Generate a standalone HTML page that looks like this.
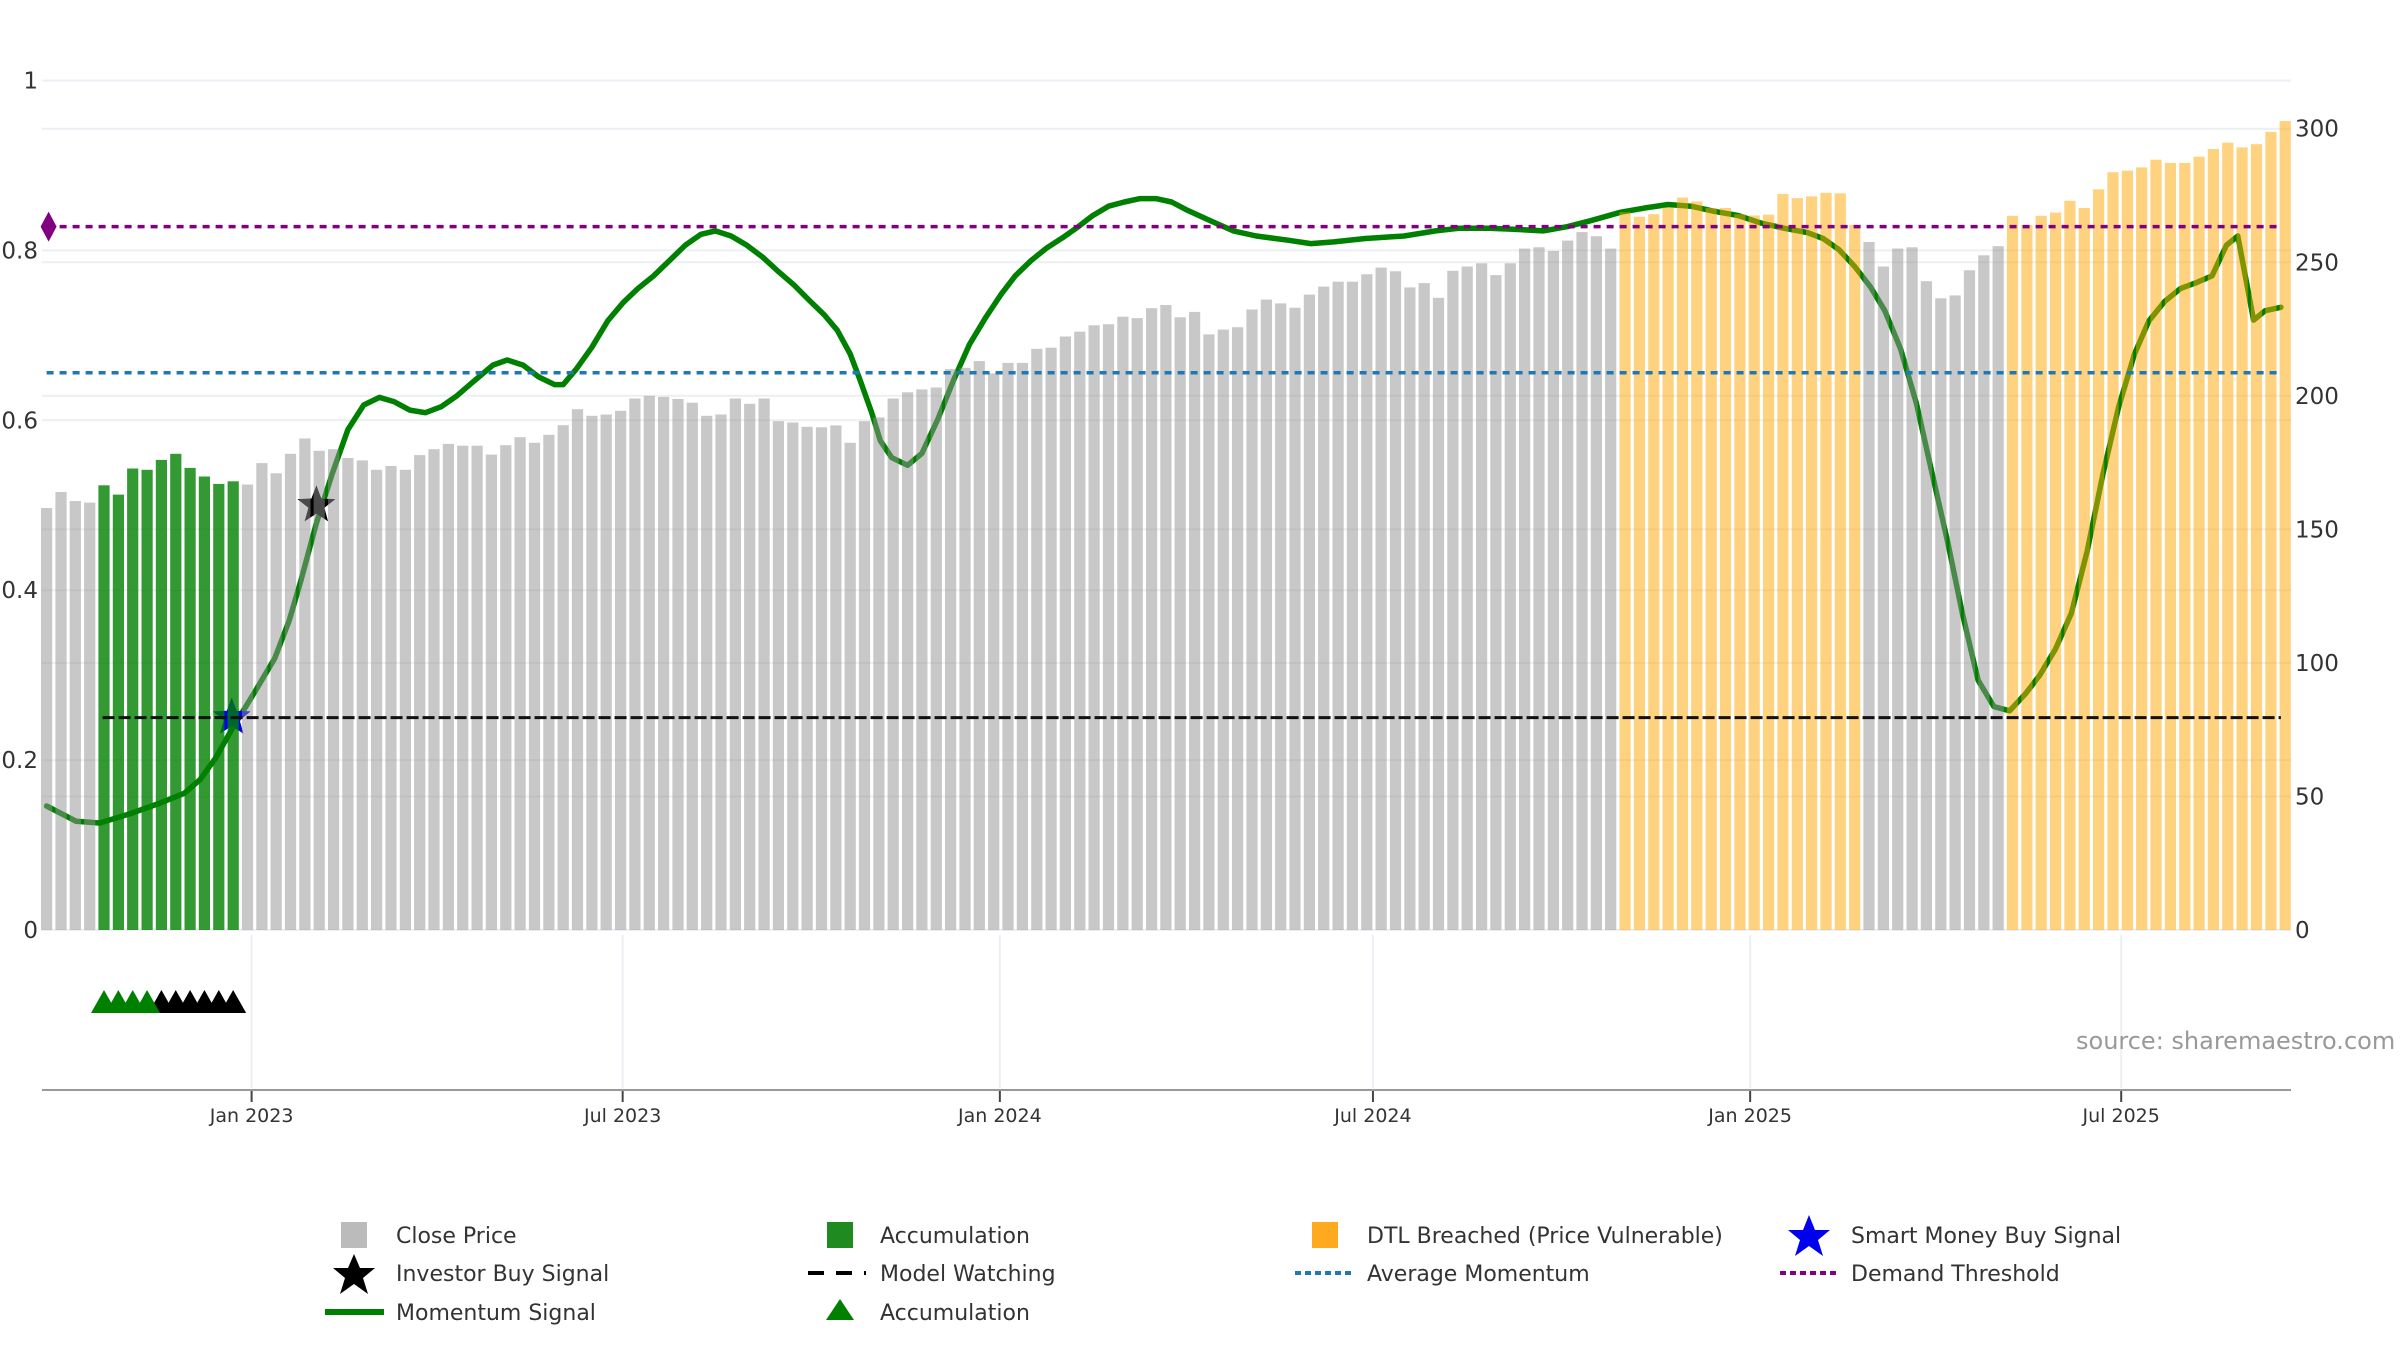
<!DOCTYPE html>
<html><head><meta charset="utf-8"><title>Momentum chart</title>
<style>
html,body{margin:0;padding:0;background:#fff;}
svg{display:block;font-family:"DejaVu Sans","Liberation Sans",sans-serif;}
</style></head>
<body>
<svg id="chart" width="2400" height="1350" viewBox="0 0 2400 1350" xmlns="http://www.w3.org/2000/svg">
  <rect x="0" y="0" width="2400" height="1350" fill="#fff"/>
  <g id="grid"></g>
  <g id="under"></g>
  <g id="bars"></g>
  <g id="over"></g>
  <g id="axes"></g>
  <text x="2076" y="1049" font-size="24" fill="#999">source: sharemaestro.com</text>
  <g id="legend" font-size="22" fill="#333">
    <g>
      <rect x="341" y="1222" width="26" height="26" fill="#bbb"/>
      <text x="396" y="1243">Close Price</text>
    </g>
    <g>
      <rect x="827" y="1222" width="26" height="26" fill="#1f8a1f"/>
      <text x="880" y="1243">Accumulation</text>
    </g>
    <g>
      <rect x="1312" y="1222" width="26" height="26" fill="#ffa91f"/>
      <text x="1367" y="1243">DTL Breached (Price Vulnerable)</text>
    </g>
    <g>
      <polygon points="1809,1215 1815,1230 1830,1230 1818,1240 1823,1256 1809,1246 1795,1256 1800,1240 1788,1230 1803,1230" fill="#0000ee"/>
      <text x="1851" y="1243">Smart Money Buy Signal</text>
    </g>
    <g>
      <polygon points="354,1254 360,1268 375,1268 363,1278 368,1294 354,1284 340,1294 345,1278 333,1268 348,1268" fill="#000"/>
      <text x="396" y="1281">Investor Buy Signal</text>
    </g>
    <g>
      <line x1="808" y1="1273" x2="866" y2="1273" stroke="#000" stroke-width="4" stroke-dasharray="16,12"/>
      <text x="880" y="1281">Model Watching</text>
    </g>
    <g>
      <line x1="1295" y1="1273" x2="1353" y2="1273" stroke="#1f77b4" stroke-width="4" stroke-dasharray="6,4"/>
      <text x="1367" y="1281">Average Momentum</text>
    </g>
    <g>
      <line x1="1780" y1="1273" x2="1838" y2="1273" stroke="#800080" stroke-width="4" stroke-dasharray="6,4"/>
      <text x="1851" y="1281">Demand Threshold</text>
    </g>
    <g>
      <line x1="325" y1="1312" x2="384" y2="1312" stroke="#008000" stroke-width="6"/>
      <text x="396" y="1320">Momentum Signal</text>
    </g>
    <g>
      <polygon points="840,1299 854,1320 826,1320" fill="#008000"/>
      <text x="880" y="1320">Accumulation</text>
    </g>
  </g>
</svg>
<script>
// ---- data ----
const closePrice = [
158,164,160.6,160,166.5,163,172.8,172.3,176,178.3,173,169.8,167,168,166.8,174.8,171,178.3,184,179.4,180,176.7,175.8,172.3,173.7,172.3,177.8,180,182,181.3,181.3,178,181.5,184.5,182.4,185.4,189,195,192.5,193,194.4,199,200,199.6,198.8,197.4,192.5,193,199,197,199,190.5,190,188.4,
188.2,188.9,182.4,190.5,191.9,199,201.3,202.4,203.1,210,210.5,213,208.4,212.3,212.3,217.6,218,222.2,224,226.4,226.8,229.6,229.1,232.8,234,229.4,231.4,223,224.8,225.7,232.3,236,234.6,233,237.9,240.9,242.7,242.7,245.5,248,246.6,240.6,242.2,236.7,246.8,248.4,249.6,245.2,249.6,255.1,255.6,254.2,258.1,261.3,259.7,255.1,
268.7,267,268,270.5,274.2,272.8,270.3,270.3,268,267.5,267.8,275.6,274,274.7,276,275.8,264,
257.6,248.4,255.1,255.6,242.9,236.5,237.6,247,252.6,256,
267.4,263.9,267.4,268.6,273,270.3,277.3,283.7,284.3,285.5,288.4,287.2,287.2,289.5,292.4,294.8,293,294.2,298.8,302.9
];
const accumulationWeeks = [4,5,6,7,8,9,10,11,12,13];
const dtlRanges = [[110,126],[137,156]];
const momentumWeek = [0,2.06,3.7,5.84,8.0,9.6,10.7,11.8,12.9,14.5,15.9,16.9,17.7,18.8,19.9,21.0,22.1,23.2,24.2,25.3,26.4,27.5,28.6,29.7,31.1,32.1,33.2,34.3,35.4,36.0,36.9,38.0,39.1,40.2,41.2,42.3,43.4,44.5,45.6,46.6,47.7,48.8,49.9,51.0,52.1,53.1,54.2,55.1,56.0,56.7,57.5,58.1,58.9,60.0,61.0,62.1,63.2,64.3,65.4,66.5,67.5,68.6,69.7,70.8,71.9,72.9,74.0,75.1,76.2,77.3,78.4,79.4,81.1,82.7,84.3,86.5,88.1,89.7,91.9,94.6,96.8,98.4,100.5,102.2,104.3,106.0,107.6,109.7,111.4,113.0,114.6,116.2,117.9,119.5,121.1,122.7,123.8,124.9,126.0,127.1,128.1,129.2,130.3,131.4,132.5,133.5,134.6,135.7,136.8,137.9,138.9,140.0,141.1,142.2,143.3,144.4,145.5,146.5,147.6,148.7,149.8,150.9,151.9,152.7,153.8,154.6,155.7];
const momentumValue = [0.146,0.128,0.126,0.137,0.15,0.161,0.177,0.203,0.236,0.28,0.32,0.364,0.41,0.479,0.537,0.589,0.618,0.627,0.622,0.612,0.609,0.616,0.629,0.645,0.665,0.671,0.665,0.651,0.642,0.642,0.66,0.686,0.717,0.739,0.755,0.77,0.788,0.806,0.819,0.823,0.817,0.806,0.792,0.775,0.759,0.742,0.724,0.706,0.678,0.647,0.609,0.576,0.556,0.547,0.561,0.601,0.647,0.689,0.72,0.748,0.77,0.788,0.803,0.815,0.828,0.841,0.852,0.857,0.861,0.861,0.857,0.848,0.835,0.823,0.817,0.812,0.808,0.81,0.814,0.817,0.823,0.826,0.826,0.825,0.823,0.828,0.835,0.845,0.85,0.854,0.852,0.846,0.841,0.832,0.826,0.821,0.814,0.801,0.781,0.757,0.729,0.684,0.62,0.537,0.455,0.373,0.294,0.263,0.258,0.278,0.3,0.331,0.373,0.446,0.537,0.616,0.678,0.717,0.74,0.755,0.762,0.77,0.806,0.817,0.718,0.729,0.733];
const demandThreshold = [0.828];
const averageMomentum = [0.656];
const modelWatching = [0.25];
const investorBuy = [[18.8, 0.5]];
const smartMoneyBuy = [[12.9, 0.25]];
const accumTriangleWeeks = [4,5,6,7];
const watchTriangleWeeks = [8,9,10,11,12,13];
const leftTicks = [0,0.2,0.4,0.6,0.8,1];
const leftTickLabels = ["0","0.2","0.4","0.6","0.8","1"];
const rightTicks = [0,50,100,150,200,250,300];
const dateTicks = [[2023,0],[2023,6],[2024,0],[2024,6],[2025,0],[2025,6]];
const dateTickLabels = ["Jan 2023","Jul 2023","Jan 2024","Jul 2024","Jan 2025","Jul 2025"];

// ---- scales ----
const NS = "http://www.w3.org/2000/svg";
const DAY = 864e5;
const startDay = Date.UTC(2022,8,23);
const PLOT_L = 42, PLOT_R = 2291, BASE = 930;
function xDate(t){ return 251.6 + (t - Date.UTC(2023,0,1))/DAY*2.05; }
function xWeek(i){ return xDate(startDay + i*7*DAY); }
function yL(v){ return BASE - v*849.5; }
function yR(p){ return BASE - p*2.671; }
function mk(tag, attrs, parent){
  const el = document.createElementNS(NS, tag);
  for (const k in attrs) el.setAttribute(k, attrs[k]);
  parent.appendChild(el);
  return el;
}
function starPts(cx, cy, R){
  const r = R*0.42, pts=[];
  for (let k=0;k<10;k++){
    const a = -Math.PI/2 + k*Math.PI/5, rr = k%2 ? r : R;
    pts.push((cx+rr*Math.cos(a)).toFixed(1)+","+(cy+rr*Math.sin(a)).toFixed(1));
  }
  return pts.join(" ");
}
const gGrid = document.getElementById("grid");
const gUnder = document.getElementById("under");
const gBars = document.getElementById("bars");
const gOver = document.getElementById("over");
const gAxes = document.getElementById("axes");

// grid
leftTicks.forEach((v,i)=>{
  const ln = mk("line",{x1:PLOT_L,x2:PLOT_R,y1:yL(v),y2:yL(v),stroke:"#eceff4","stroke-width":2},gGrid);
  
  
  const t = mk("text",{x:38,y:yL(v)+8,"text-anchor":"end","font-size":23,fill:"#333"},gAxes);
  t.textContent = leftTickLabels[i];
  
  
});
rightTicks.forEach(p=>{
  const ln = mk("line",{x1:PLOT_L,x2:PLOT_R,y1:yR(p),y2:yR(p),stroke:"#eceff4","stroke-width":2},gGrid);
  
  
  const t = mk("text",{x:2295,y:yR(p)+8,"font-size":23,fill:"#333"},gAxes);
  t.textContent = String(p);
  
  
});
dateTicks.forEach((d,i)=>{
  const x = xDate(Date.UTC(d[0],d[1],1));
  const g = mk("line",{x1:x,x2:x,y1:935,y2:1088,stroke:"#eceff4","stroke-width":2},gGrid);
  
  
  const tk = mk("line",{x1:x,x2:x,y1:1090,y2:1102,stroke:"#444","stroke-width":2},gAxes);
  
  
  const t = mk("text",{x:x,y:1122,"text-anchor":"middle","font-size":19,fill:"#333"},gAxes);
  t.textContent = dateTickLabels[i];
  
  
});
const axisLine = mk("line",{x1:PLOT_L,x2:PLOT_R,y1:1090,y2:1090,stroke:"#999","stroke-width":2},gAxes);



// momentum line (under bars)
const pts = momentumWeek.map((w,i)=>xWeek(w).toFixed(1)+","+yL(momentumValue[i]).toFixed(1)).join(" ");
const mline = mk("polyline",{points:pts,fill:"none",stroke:"#008000","stroke-width":5.5,"stroke-linejoin":"round","stroke-linecap":"round"},gUnder);


investorBuy.forEach(s=>{
  const st = mk("polygon",{points:starPts(xWeek(s[0]),yL(s[1]),20),fill:"#000"},gUnder);
  
  
});
smartMoneyBuy.forEach(s=>{
  const st = mk("polygon",{points:starPts(xWeek(s[0]),yL(s[1]),20),fill:"#0000ee"},gUnder);
  
  
});

// bars
function isDTL(i){ return dtlRanges.some(r=>i>=r[0]&&i<=r[1]); }
closePrice.forEach((p,i)=>{
  let fill = "rgba(145,145,145,0.5)", name = "close-price-bar";
  if (accumulationWeeks.indexOf(i)>=0){ fill = "rgba(0,128,0,0.8)"; name = "accumulation-bar"; }
  else if (isDTL(i)){ fill = "rgba(255,165,0,0.5)"; name = "dtl-breached-bar"; }
  const x = xWeek(i);
  const b = mk("rect",{x:(x-5.6).toFixed(1),y:yR(p).toFixed(1),width:11.2,height:(BASE-yR(p)).toFixed(1),fill:fill},gBars);
  
  
});

// horizontal reference lines
const xEndRef = xWeek(155.7);
demandThreshold.forEach(v=>{
  const l = mk("line",{x1:xWeek(0),x2:xEndRef,y1:yL(v),y2:yL(v),stroke:"#800080","stroke-width":3.5,"stroke-dasharray":"7,6"},gOver);
  
  
  const d = mk("polygon",{points:`${xWeek(0)-6},${yL(v)} ${xWeek(0)+2},${yL(v)-15} ${xWeek(0)+10},${yL(v)} ${xWeek(0)+2},${yL(v)+15}`,fill:"#800080"},gOver);
  
  
});
averageMomentum.forEach(v=>{
  const l = mk("line",{x1:xWeek(0),x2:xEndRef,y1:yL(v),y2:yL(v),stroke:"#1f77b4","stroke-width":3.5,"stroke-dasharray":"7,6"},gOver);
  
  
});
modelWatching.forEach(v=>{
  const l = mk("line",{x1:xWeek(3.9),x2:xEndRef,y1:yL(v),y2:yL(v),stroke:"#111","stroke-width":3,"stroke-dasharray":"12,4"},gOver);
  
  
});

// lower triangles
function tri(w, color, name){
  const x = xWeek(w);
  const t = mk("polygon",{points:`${x},990 ${x+13},1013 ${x-13},1013`,fill:color},gAxes);
  
  
}
watchTriangleWeeks.forEach(w=>tri(w,"#000","watch-triangle"));
accumTriangleWeeks.slice().reverse().forEach(w=>tri(w,"#008000","accumulation-triangle"));
</script>
</body></html>
